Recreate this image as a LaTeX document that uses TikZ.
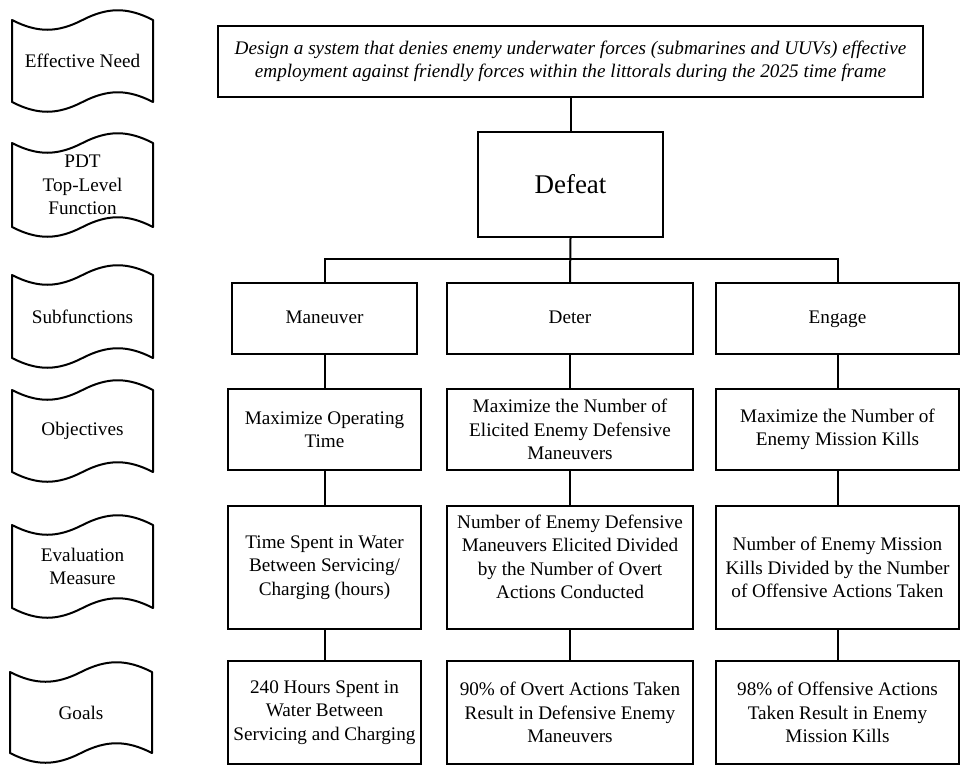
\documentclass[tikz,border=0pt]{standalone}
\usepackage{fontspec}
\setmainfont{Liberation Serif}
\usetikzlibrary{positioning}

\tikzset{
  blk/.style={draw,line width=2pt,align=center,inner sep=2pt,
    font=\fontsize{19.2}{23.5}\selectfont},
  tape/.style={draw,line width=2pt,line join=round},
  tapetxt/.style={align=center,inner sep=0pt,font=\fontsize{19.2}{23.5}\selectfont},
  wire/.style={line width=2pt},
}

\begin{document}
\begin{tikzpicture}[x=1pt,y=-1pt]
    \useasboundingbox (0,0) rectangle (960,766);
    % ============ Row labels: punched-tape shapes on the left ============
    \foreach \n/\yt/\yb/\xl/\xr/\txt in {need/20/102/12/153/{Effective Need},
        pdt/143/227/12/153/{PDT\\Top-Level\\Function},
        sub/275/358/12/153/{Subfunctions},
        obj/390/472/12/153/{Objectives},
        eval/525/608/12/153/{Evaluation\\Measure},
        goal/672/753/10/152/{Goals}}{
      \pgfmathsetmacro\w{\xr-\xl}
      \draw[tape] (\xl,\yt)
        .. controls ({\xl+0.18*\w},{\yt+13}) and ({\xl+0.32*\w},{\yt+13}) .. ({\xl+0.5*\w},\yt)
        .. controls ({\xl+0.68*\w},{\yt-13}) and ({\xl+0.82*\w},{\yt-13}) .. (\xr,\yt)
        -- (\xr,\yb)
        .. controls ({\xl+0.82*\w},{\yb-13}) and ({\xl+0.68*\w},{\yb-13}) .. ({\xl+0.5*\w},\yb)
        .. controls ({\xl+0.32*\w},{\yb+13}) and ({\xl+0.18*\w},{\yb+13}) .. (\xl,\yb)
        -- cycle;
      \node[tapetxt] (lab\n) at ({(\xl+\xr)/2},{(\yt+\yb)/2}) {\txt};
    }
    % ============ Effective need and top-level function ============
    \node[blk,line width=2.6pt,minimum width=705pt,minimum height=71pt,
      font=\fontsize{19.2}{23.5}\selectfont\itshape] (need) at (570.5,61.5)
      {Design a system that denies enemy underwater forces (submarines and UUVs) effective\\
       employment against friendly forces within the littorals during the 2025 time frame};
    \node[blk,minimum width=185pt,minimum height=105pt,
      font=\fontsize{27}{32}\selectfont] (defeat) at (570.5,184.5) {Defeat};
    % ============ Subfunctions ============
    \node[blk,minimum width=185pt,minimum height=71pt] (maneuver) at (324.5,318.5) {\strut Maneuver};
    \node[blk,minimum width=246pt,minimum height=71pt] (deter) at (570,318.5) {\strut Deter};
    \node[blk,minimum width=243pt,minimum height=71pt] (engage) at (837.5,318.5) {\strut Engage};
    % ============ Objectives ============
    \node[blk,minimum width=193pt,minimum height=81pt] (obj1) at (324.5,429.5)
      {Maximize Operating\\Time};
    \node[blk,minimum width=246pt,minimum height=81pt] (obj2) at (570,429.5)
      {Maximize the Number of\\Elicited Enemy Defensive\\Maneuvers};
    \node[blk,minimum width=243pt,minimum height=81pt] (obj3) at (837.5,429.5)
      {Maximize the Number of\\Enemy Mission Kills};
    % ============ Evaluation measures ============
    \node[blk,minimum width=193pt,minimum height=123pt] (eval1) at (324.5,567.5)
      {Time Spent in Water\\Between Servicing/\\Charging (hours)};
    \node[blk,minimum width=246pt,minimum height=123pt,text depth=22pt] (eval2) at (570,567.5)
      {Number of Enemy Defensive\\Maneuvers Elicited Divided\\by the Number of Overt\\Actions Conducted};
    \node[blk,minimum width=243pt,minimum height=123pt] (eval3) at (837.5,567.5)
      {Number of Enemy Mission\\Kills Divided by the Number\\of Offensive Actions Taken};
    % ============ Goals ============
    \node[blk,minimum width=193pt,minimum height=103pt] (goal1) at (324.5,712.5)
      {240 Hours Spent in\\Water Between\\Servicing and Charging};
    \node[blk,minimum width=246pt,minimum height=103pt] (goal2) at (570,712.5)
      {90\% of Overt Actions Taken\\Result in Defensive Enemy\\Maneuvers};
    \node[blk,minimum width=243pt,minimum height=103pt] (goal3) at (837.5,712.5)
      {98\% of Offensive Actions\\Taken Result in Enemy\\Mission Kills};
    % ============ Connectors ============
    \coordinate (bus) at (570,259);
    \draw[wire] (need.south) -- (defeat.north);
    \draw[wire] (defeat.south) -- (deter.north);
    \draw[wire] (maneuver.north) |- (bus) -| (engage.north);
    \foreach \c in {1,2,3}{
      \draw[wire] (obj\c.south) -- (eval\c.north);
      \draw[wire] (eval\c.south) -- (goal\c.north);
    }
    \draw[wire] (maneuver.south) -- (obj1.north);
    \draw[wire] (deter.south) -- (obj2.north);
    \draw[wire] (engage.south) -- (obj3.north);
\end{tikzpicture}
\end{document}
